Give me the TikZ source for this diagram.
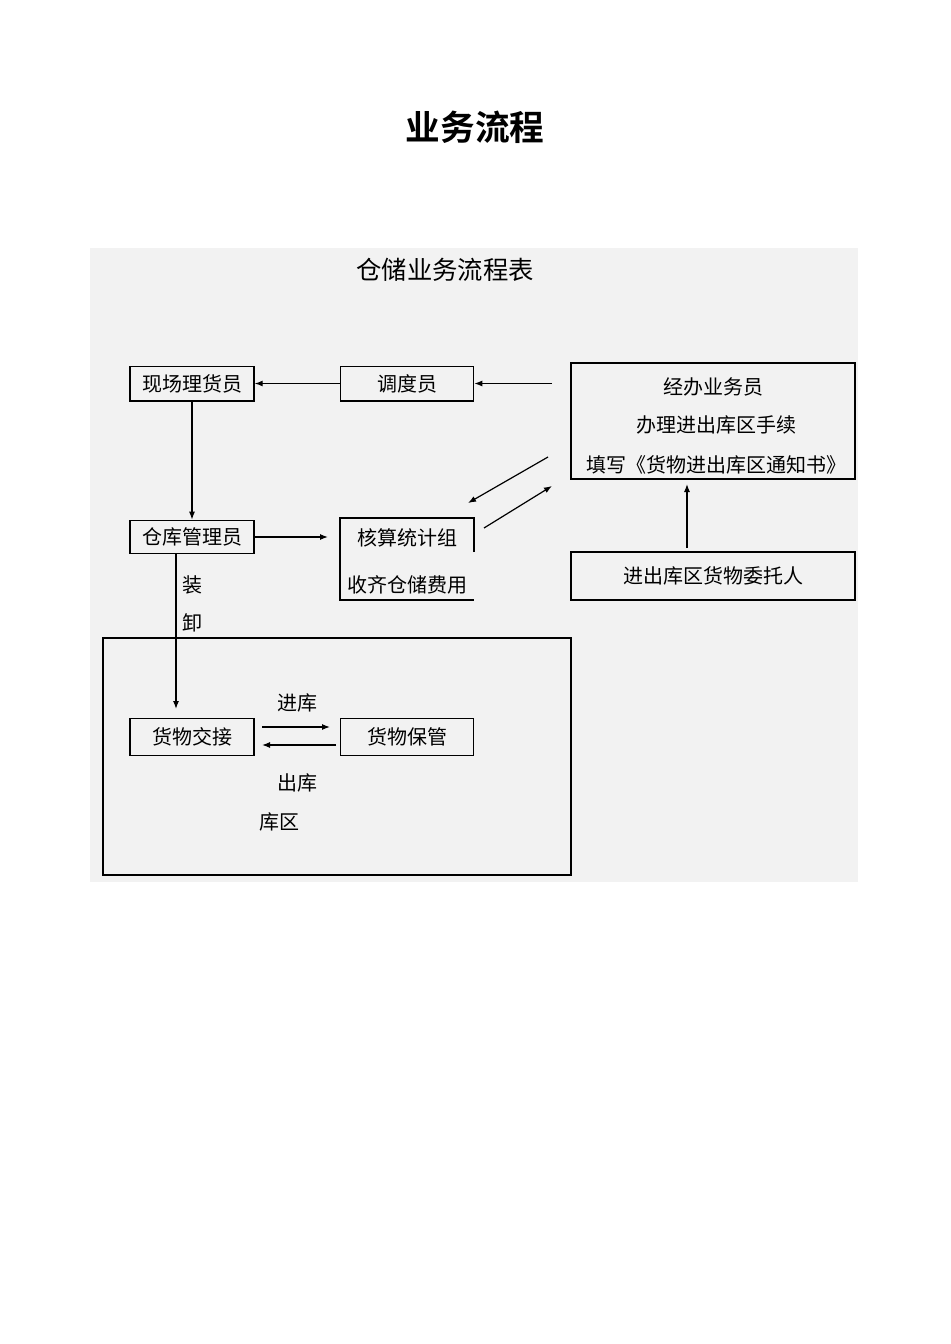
\documentclass[tikz,border=0pt]{standalone}
\usepackage{fontspec}
\usetikzlibrary{arrows.meta}
\newfontfamily\cjk{Noto Sans CJK SC}
\newfontfamily\cjkb{Noto Sans CJK SC Bold}
\begin{document}
\begin{tikzpicture}[x=0.75pt,y=-0.75pt,
 bx/.style={draw,line width=1pt,minimum height=26pt,font=\cjk\fontsize{15}{17}\selectfont},
 lb/.style={font=\cjk\fontsize{15}{17}\selectfont},
 ar/.style={-{Latex[length=6pt,width=4.5pt]},line width=0.9pt}]
\useasboundingbox (0,0) rectangle (950,1344);
\node[font=\cjkb\fontsize{26}{29}\selectfont] (title) at (475,127) {业务流程};
\fill[black!5] (90,248) rectangle (858,882);
\node[font=\cjk\fontsize{19}{21}\selectfont] (sub) at (445,270) {仓储业务流程表};
\node[bx,minimum width=93pt] (xc) at (192,383.5) {现场理货员};
\node[bx,minimum width=100pt] (dd) at (407,383.5) {调度员};
\draw[line width=1pt] (571,363) rectangle (855,479);
\node[lb] (jb1) at (713,387) {经办业务员};
\node[lb] (jb2) at (716,425) {办理进出库区手续};
\node[lb] (jb3) at (716,465) {填写《货物进出库区通知书》};
\coordinate (jbL) at (552,383.5);
\draw[ar] (jbL) -- (dd.east);
\draw[ar] (dd.west) -- (xc.east);
\node[bx,minimum width=93pt,minimum height=25pt] (ck) at (192,537) {仓库管理员};
\draw[ar] (xc.south) -- (ck.north);
\node[lb] (hs) at (407,538) {核算统计组};
\node[lb] (sq) at (407,585) {收齐仓储费用};
\draw[line width=1pt] (474,552) -- (474,518) -- (340,518) -- (340,600) -- (474,600);
\coordinate (hsE) at (328,537);
\draw[ar] (ck.east) -- (hsE);
\coordinate (d1a) at (548,457); \coordinate (d1b) at (468,503);
\coordinate (d2a) at (484,528); \coordinate (d2b) at (552,486);
\draw[ar] (d1a) -- (d1b);
\draw[ar] (d2a) -- (d2b);
\node[draw,line width=1pt,minimum width=213pt,minimum height=36pt,font=\cjk\fontsize{15}{17}\selectfont] (wt) at (713,576) {进出库区货物委托人};
\coordinate (wtN) at (687,548);
\draw[ar] (wtN) -- (687,484);
\draw[line width=2pt] (103,638) rectangle (571,875);
\node[bx,minimum width=93pt,minimum height=28pt] (jj) at (192,737) {货物交接};
\node[bx,minimum width=100pt,minimum height=28pt] (bg) at (407,737) {货物保管};
\coordinate (ckS) at (176,553);
\draw[ar] (ckS) -- (176,709);
\node[lb] (zh) at (192,585) {装};
\node[lb] (xie) at (192,623) {卸};
\coordinate (a1) at (262,727); \coordinate (a2) at (330,727);
\coordinate (b1) at (336,745); \coordinate (b2) at (262,745);
\draw[ar] (a1) -- (a2);
\draw[ar] (b1) -- (b2);
\node[lb] (jk) at (297,703) {进库};
\node[lb] (chk) at (297,783) {出库};
\node[lb] (kq) at (279,822) {库区};
\end{tikzpicture}
\end{document}
